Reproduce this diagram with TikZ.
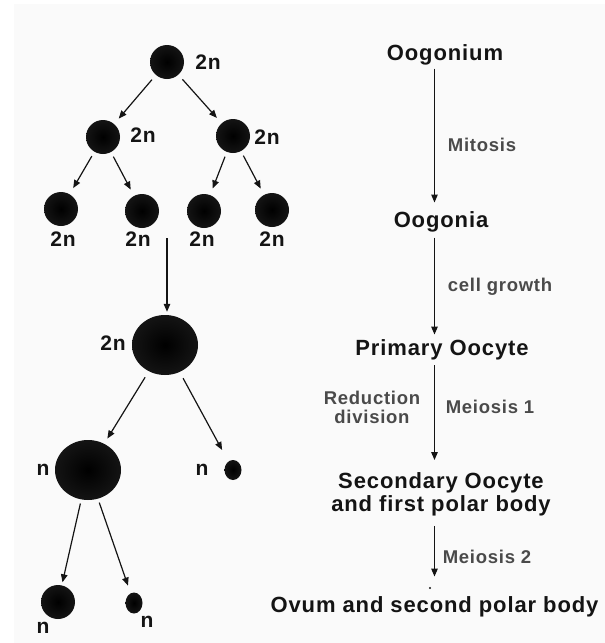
\documentclass[tikz,border=0pt]{standalone}
\usepackage{fontspec}
\setmainfont{Liberation Sans}[LetterSpace=4]
\usetikzlibrary{positioning, arrows.meta, shapes.geometric}
\definecolor{Ink}{HTML}{141414}
\definecolor{Panel}{HTML}{FAFAFA}
\definecolor{Note}{HTML}{4A4A4A}
\tikzset{
    cell/.style={ellipse, inner sep=0pt, inner color=black, outer color=Ink},
    ploidy/.style={font=\bfseries\fontsize{21}{24}\selectfont, text=Ink, inner sep=0pt},
    stage/.style={font=\bfseries\fontsize{22}{23}\selectfont, text=Ink, align=center, inner sep=0pt},
    note/.style={font=\bfseries\fontsize{18.5}{19}\selectfont, text=Note, align=center, inner sep=0pt},
    arrow/.style={-{Triangle[length=8pt, width=6.5pt]}, line width=1.2pt, color=Ink},
}

\begin{document}
\begin{tikzpicture}[x=1pt, y=-1pt]
    \useasboundingbox (0,0) rectangle (605,643);
    \fill[Panel] (14,4) rectangle (605,643);

    % --- Albero delle cellule (sinistra) ---
    % Oogonio e mitosi
    \node[cell, minimum size=34pt] (c0) at (167,62) {};
    \node[cell, minimum size=34pt] (c1) at (103,137) {};
    \node[cell, minimum size=34pt] (c2) at (233,136) {};
    \node[cell, minimum size=34pt] (c3) at (61,209) {};
    \node[cell, minimum size=34pt] (c4) at (142,211) {};
    \node[cell, minimum size=34pt] (c5) at (204,211) {};
    \node[cell, minimum size=34pt] (c6) at (272,210) {};

    \node[ploidy] (l0) at (208,62) {2n};
    \node[ploidy] (l1) at (143,135) {2n};
    \node[ploidy] (l2) at (267,137) {2n};
    \node[ploidy] (l3) at (63,239) {2n};
    \node[ploidy] (l4) at (138,239) {2n};
    \node[ploidy] (l5) at (202,239) {2n};
    \node[ploidy] (l6) at (272,239) {2n};

    \draw[arrow, shorten <=6pt, shorten >=7pt] (c0) -- (c1);
    \draw[arrow, shorten <=6pt, shorten >=7pt] (c0) -- (c2);
    \draw[arrow, shorten <=5pt, shorten >=7pt] (c1) -- (c3);
    \draw[arrow, shorten <=5pt, shorten >=7pt] (c1) -- (c4);
    \draw[arrow, shorten <=5pt, shorten >=7pt] (c2) -- (c5);
    \draw[arrow, shorten <=5pt, shorten >=7pt] (c2) -- (c6);

    % Crescita: ovocita primario
    \coordinate (grow) at (167,238);
    \node[cell, minimum width=66pt, minimum height=60pt] (big) at (165,345) {};
    \node[ploidy] (l7) at (113,343) {2n};
    \draw[arrow, shorten >=3pt] (grow) -- (big.north -| grow);

    % Meiosi 1
    \node[cell, minimum width=66pt, minimum height=60pt] (sec) at (88,470) {};
    \node[cell, minimum width=17pt, minimum height=20pt] (pb1) at (233,470) {};
    \node[ploidy] (l8) at (43,470) {n};
    \node[ploidy] (l9) at (202,470) {n};
    \draw[arrow, shorten <=7pt, shorten >=6pt] (big) -- (sec);
    \draw[arrow, shorten <=7pt, shorten >=13pt] (big) -- (pb1);

    % Meiosi 2
    \node[cell, minimum size=34pt] (ovum cell) at (58,602) {};
    \node[cell, minimum width=17pt, minimum height=21pt] (pb2) at (134,603) {};
    \node[ploidy] (l10) at (43,628) {n};
    \node[ploidy] (l11) at (147,622) {n};
    \draw[arrow, shorten <=4pt, shorten >=3pt] (sec) -- (ovum cell);
    \draw[arrow, shorten <=4pt, shorten >=8pt] (sec) -- (pb2);

    % --- Sequenza degli stadi (destra) ---
    \node[stage] (oogonium) at (445,55) {Oogonium};
    \node[stage] (oogonia) at (441,222) {Oogonia};
    \node[stage] (primary) at (442,350) {Primary Oocyte};
    \node[stage] (secondary) at (441,494) {Secondary Oocyte\\and first polar body};
    \node[stage] (ovum) at (434.5,607) {Ovum and second polar body};

    \node[note] (mitosis) at (482,145) {Mitosis};
    \node[note] (growth) at (500,287) {cell growth};
    \node[note] (reduction) at (372,407) {Reduction\\division};
    \node[note] (meiosis1) at (490,407) {Meiosis 1};
    \node[note] (meiosis2) at (487,557) {Meiosis 2};

    \draw[arrow, shorten <=3pt, shorten >=9pt] (oogonium.south -| ovum) -- (oogonia.north -| ovum);
    \draw[arrow, shorten <=5pt, shorten >=5pt] (oogonia.south -| ovum) -- (primary.north -| ovum);
    \draw[arrow, shorten <=5pt, shorten >=12pt] (primary.south -| ovum) -- (secondary.north -| ovum);
    \draw[arrow, shorten <=10pt, shorten >=20pt] (secondary.south -| ovum) -- (ovum.north);
    \fill[Ink] (430,588) circle (1.2pt);

\end{tikzpicture}
\end{document}
